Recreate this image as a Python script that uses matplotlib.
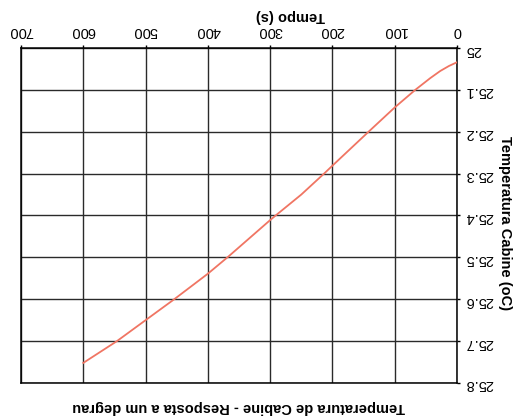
import matplotlib
matplotlib.use("Agg")
from matplotlib import pyplot as plt

plt.rcParams['font.family'] = ['Liberation Sans', 'DejaVu Sans']

tempo = [0, 13, 27, 43, 67, 100, 142, 200, 212, 250, 292, 300, 367, 400, 454, 500, 546, 600]
temperatura = [25.034, 25.043, 25.055, 25.072, 25.100, 25.142, 25.200, 25.281, 25.298,
               25.350, 25.401, 25.411, 25.498, 25.539, 25.600, 25.650, 25.700, 25.752]

x_ticks = [0, 100, 200, 300, 400, 500, 600, 700]
y_ticks = [25, 25.1, 25.2, 25.3, 25.4, 25.5, 25.6, 25.7, 25.8]
y_tick_labels = ["25", "25.1", "25.2", "25.3", "25.4", "25.5", "25.6", "25.7", "25.8"]

fig = plt.figure(figsize=(5.17, 4.18), dpi=100)
ax = fig.add_axes([21 / 517, 35 / 418, 436 / 517, 335 / 418])

ax.plot(tempo, temperatura, color="#f07563", linewidth=1.3, zorder=3)

# the picture is rotated 180 degrees
ax.set_xlim(700, 0)
ax.set_ylim(25.8, 25)
ax.xaxis.tick_top()
ax.yaxis.tick_right()
ax.set_xticks(x_ticks)
ax.set_xticklabels([str(v) for v in x_ticks], rotation=180, fontsize=10.5)
ax.set_yticks(y_ticks)
ax.set_yticklabels(y_tick_labels, rotation=180, fontsize=10.5)
ax.tick_params(axis="both", length=2.5, width=1, pad=3, colors="black")
ax.tick_params(axis="x", pad=4.5)

ax.grid(True, color="#2a2a2a", linewidth=1)
for s in ax.spines.values():
    s.set_linewidth(1.1)

ax.text(0.617, 1.096, "Tempo (s)", transform=ax.transAxes, rotation=180,
        ha="center", va="center", fontsize=10.5, fontweight="bold")
ax.text(1.110, 0.478, "Temperatura Cabine (oC)", transform=ax.transAxes, rotation=270,
        ha="center", va="center", fontsize=10.5, fontweight="bold")
ax.text(0.5, -0.071, "Temperatura de Cabine - Resposta a um degrau", transform=ax.transAxes,
        rotation=180, ha="center", va="center", fontsize=10.5, fontweight="bold")

fig.savefig("out.png", dpi=100)
